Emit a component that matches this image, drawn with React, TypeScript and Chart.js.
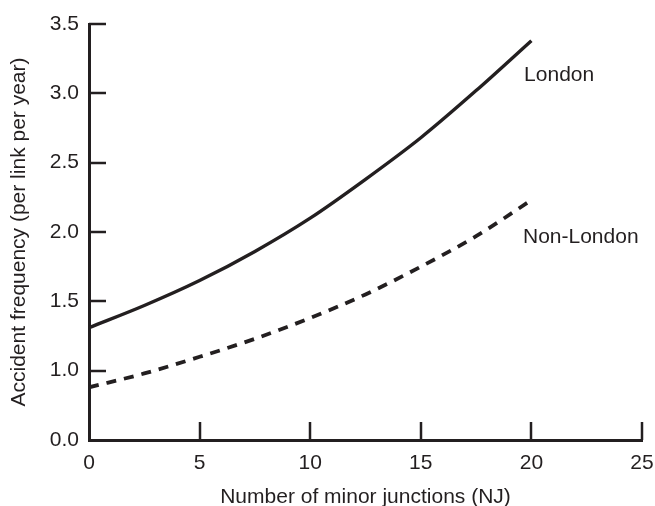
import React, { useEffect, useRef } from "react";
import { Chart, registerables } from "chart.js";

Chart.register(...registerables);

const junctions = [0, 2.5, 5, 7.5, 10, 12.5, 15, 17.5, 20];
const londonValues = [1.31, 1.47, 1.65, 1.86, 2.1, 2.38, 2.68, 3.02, 3.38];
const nonLondonValues = [0.88, 0.98, 1.1, 1.23, 1.38, 1.55, 1.75, 1.97, 2.23];
const xTicks = [5, 10, 15, 20, 25];
const yTicks = [1.0, 1.5, 2.0, 2.5, 3.0, 3.5];
const seriesLabels = [
  { text: "London", x: 19.67, y: 3.13 },
  { text: "Non-London", x: 19.62, y: 1.96 },
];

const INK = "#231f20";
const FONT = "'Liberation Sans', Arial, Helvetica, sans-serif";

const inwardTicks = {
  id: "inwardTicks",
  afterDatasetsDraw(chart: any) {
    const ctx = chart.ctx;
    const xs = chart.scales.x;
    const ys = chart.scales.y;
    const area = chart.chartArea;
    ctx.save();
    ctx.strokeStyle = INK;
    ctx.lineWidth = 2.5;
    ctx.lineCap = "butt";
    for (const t of xTicks) {
      const px = Math.round(xs.getPixelForValue(t));
      ctx.beginPath();
      ctx.moveTo(px, area.bottom);
      ctx.lineTo(px, area.bottom - 18);
      ctx.stroke();
    }
    for (const t of yTicks) {
      const py = Math.round(ys.getPixelForValue(t));
      ctx.beginPath();
      ctx.moveTo(area.left, py);
      ctx.lineTo(area.left + 17, py);
      ctx.stroke();
    }
    ctx.fillStyle = INK;
    ctx.font = `21px ${FONT}`;
    ctx.textAlign = "left";
    ctx.textBaseline = "middle";
    for (const l of seriesLabels) {
      ctx.fillText(l.text, xs.getPixelForValue(l.x), ys.getPixelForValue(l.y));
    }
    ctx.restore();
  },
};

export default function App() {
  const ref = useRef<HTMLCanvasElement | null>(null);
  useEffect(() => {
    document.body.style.margin = "0";
    const canvas = ref.current!;
    const chart = new Chart(canvas, {
      type: "line",
      data: {
        datasets: [
          {
            label: "London",
            data: junctions.map((x, i) => ({ x, y: londonValues[i] })),
            borderColor: INK,
            borderWidth: 3.4,
            pointRadius: 0,
            cubicInterpolationMode: "monotone",
            fill: false,
          },
          {
            label: "Non-London",
            data: junctions.map((x, i) => ({ x, y: nonLondonValues[i] })),
            borderColor: INK,
            borderWidth: 3.8,
            borderDash: [10, 8],
            pointRadius: 0,
            cubicInterpolationMode: "monotone",
            fill: false,
          },
        ],
      },
      options: {
        animation: false,
        responsive: false,
        devicePixelRatio: 1,
        layout: { padding: { left: 0, top: 24, right: 0, bottom: 0 } },
        plugins: { legend: { display: false }, tooltip: { enabled: false } },
        scales: {
          x: {
            type: "linear",
            min: 0,
            max: 25,
            grid: { display: false, drawTicks: false, tickLength: 0 },
            border: { display: true, color: INK, width: 3 },
            ticks: {
              stepSize: 5,
              color: INK,
              font: { family: FONT, size: 21 },
              padding: 11,
              maxRotation: 0,
            },
            title: {
              display: true,
              text: "Number of minor junctions (NJ)",
              color: INK,
              font: { family: FONT, size: 21, lineHeight: 0.8 },
              padding: { top: 0, bottom: 0 },
            },
            afterFit(scale: any) {
              scale.height = 66;
              scale.paddingRight = 13;
            },
          },
          y: {
            type: "linear",
            min: 0.5,
            max: 3.5,
            grid: { display: false, drawTicks: false, tickLength: 0 },
            border: { display: true, color: INK, width: 3 },
            ticks: {
              stepSize: 0.5,
              color: INK,
              font: { family: FONT, size: 21 },
              padding: 10,
              callback: (v: any) => (Math.abs(v - 0.5) < 1e-9 ? "0.0" : Number(v).toFixed(1)),
            },
            title: {
              display: true,
              text: "Accident frequency (per link per year)",
              color: INK,
              font: { family: FONT, size: 21 },
              padding: { top: 7, bottom: 0 },
            },
            afterFit(scale: any) {
              scale.width = 89;
            },
          },
        },
      },
      plugins: [inwardTicks],
    });
    return () => chart.destroy();
  }, []);
  return (
    <div style={{ width: 655, height: 506 }}>
      <canvas ref={ref} width={655} height={506} />
    </div>
  );
}
